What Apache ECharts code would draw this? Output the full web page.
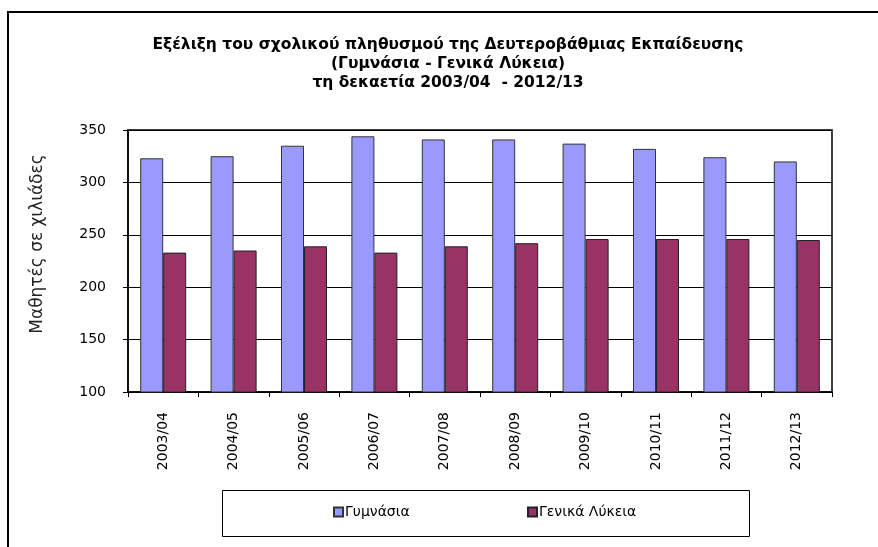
<!DOCTYPE html>
<html>
<head>
<meta charset="utf-8">
<script src="https://cdn.jsdelivr.net/npm/echarts@6/dist/echarts.min.js"></script>
<style>html,body{margin:0;padding:0;background:#fff}#c{width:878px;height:547px}</style>
</head>
<body>
<div id="c"></div>
<script>
const categories = ['2003/04','2004/05','2005/06','2006/07','2007/08','2008/09','2009/10','2010/11','2011/12','2012/13'];
const gymnasia = [323, 325, 335, 344, 341, 341, 337, 332, 324, 320];
const lykeia = [233, 235, 239, 233, 239, 242, 246, 246, 246, 245];
const yTicks = {min: 100, max: 350, interval: 50};
const seriesNames = ['Γυμνάσια', 'Γενικά Λύκεια'];

const FONT = '"DejaVu Sans", Arial, sans-serif';
const chart = echarts.init(document.getElementById('c'), null, {renderer: 'canvas'});
chart.setOption({
  animation: false,
  backgroundColor: '#fff',
  title: {
    text: 'Εξέλιξη του σχολικού πληθυσμού της Δευτεροβάθμιας Εκπαίδευσης\n(Γυμνάσια - Γενικά Λύκεια)\nτη δεκαετία 2003/04  - 2012/13',
    left: 448, top: 35, textAlign: 'center', padding: 0,
    textStyle: {fontFamily: FONT, fontSize: 15.5, fontWeight: 'bold', color: '#000', lineHeight: 19}
  },
  graphic: [
    {type: 'rect', shape: {x: 8, y: 12, width: 900, height: 600}, style: {fill: 'none', stroke: '#000', lineWidth: 2}, silent: true},
    {type: 'rect', shape: {x: 222.5, y: 490.5, width: 527, height: 46}, style: {fill: '#fff', stroke: '#000', lineWidth: 1}, z: 0, silent: true}
  ],
  legend: [
    {data: [seriesNames[0]], left: 333, top: 505, padding: 0, itemWidth: 9, itemHeight: 9, icon: 'rect', itemGap: 3,
     textStyle: {fontFamily: FONT, fontSize: 14, color: '#000', padding: [0,0,0,-3]}, z: 5},
    {data: [seriesNames[1]], left: 527, top: 505, padding: 0, itemWidth: 9, itemHeight: 9, icon: 'rect', itemGap: 3,
     textStyle: {fontFamily: FONT, fontSize: 14, color: '#000', padding: [0,0,0,-3]}, z: 5}
  ],
  grid: {left: 128, right: 46, top: 130, bottom: 155, show: true, borderColor: '#000', borderWidth: 1.5, backgroundColor: '#fff'},
  xAxis: {
    type: 'category', data: categories,
    axisLine: {lineStyle: {color: '#000', width: 1.5}},
    axisTick: {show: true, alignWithLabel: false, length: 5, inside: false, lineStyle: {color: '#000'}},
    axisLabel: {rotate: 90, margin: 20, fontFamily: FONT, fontSize: 14, color: '#000'}
  },
  yAxis: {
    type: 'value', min: yTicks.min, max: yTicks.max, interval: yTicks.interval,
    name: 'Μαθητές σε χιλιάδες', nameLocation: 'middle', nameGap: 82,
    nameTextStyle: {fontFamily: FONT, fontSize: 17, color: '#222', padding: [0, 0, 0, 34]},
    axisLine: {show: true, lineStyle: {color: '#000', width: 1.5}},
    axisTick: {show: true, length: 5, lineStyle: {color: '#000'}},
    axisLabel: {margin: 22, fontFamily: FONT, fontSize: 14, color: '#000'},
    splitLine: {show: true, lineStyle: {color: '#000', width: 1}}
  },
  series: [
    {name: seriesNames[0], type: 'bar', data: gymnasia, barWidth: 23, barGap: '0%',
     itemStyle: {color: '#9999FF', borderColor: '#333', borderWidth: 1}},
    {name: seriesNames[1], type: 'bar', data: lykeia, barWidth: 23, barGap: '0%',
     itemStyle: {color: '#993366', borderColor: '#222', borderWidth: 1}}
  ]
});
</script>
</body>
</html>
